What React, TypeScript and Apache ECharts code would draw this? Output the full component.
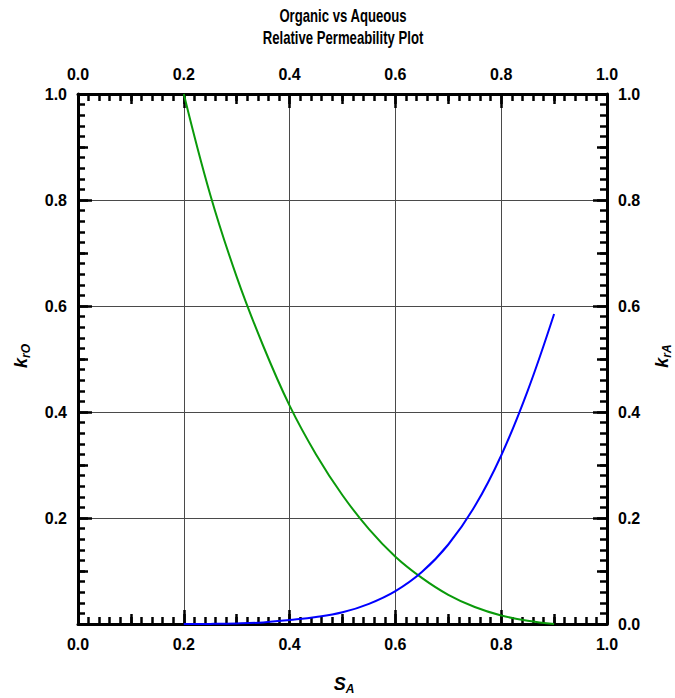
import React, { useEffect, useRef } from "react";
import * as echarts from "echarts";

const saturation = [0.2, 0.25, 0.3, 0.35, 0.4, 0.45, 0.5, 0.55, 0.6, 0.65, 0.7, 0.75, 0.8, 0.85, 0.9];
const krOrganic = [1.0, 0.81, 0.655, 0.525, 0.412, 0.32, 0.243, 0.179, 0.127, 0.087, 0.055, 0.032, 0.016, 0.006, 0.0];
const krAqueous = [0.0, 0.0002, 0.001, 0.003, 0.0075, 0.013, 0.022, 0.038, 0.062, 0.098, 0.15, 0.222, 0.318, 0.44, 0.585];
const titleLines = ["Organic vs Aqueous", "Relative Permeability Plot"];

const LFONT = "'Liberation Sans', Arial, sans-serif";

const labelStyle = { fontFamily: LFONT, fontWeight: "bold" as const, fontSize: 16, color: "#000" };

function mainAxis(position: string, isX: boolean, showSplit: boolean, formatter?: (v: number) => string) {
  return {
    type: "value",
    position,
    min: 0,
    max: 1,
    interval: 0.2,
    axisLine: { show: true, onZero: false, lineStyle: { color: "#000", width: 3 } },
    axisTick: { show: true, inside: true, length: 14, lineStyle: { color: "#000", width: 2.5 } },
    minorTick: { show: true, splitNumber: 10, length: 7, lineStyle: { color: "#000", width: 2.5 } },
    splitLine: { show: showSplit, lineStyle: { color: "#4a4a4a", width: 1 } },
    minorSplitLine: { show: false },
    axisLabel: {
      ...labelStyle,
      margin: isX ? 12 : 11,
      formatter: formatter || ((v: number) => v.toFixed(1)),
    },
  };
}

function midAxis(position: string) {
  return {
    type: "value",
    position,
    min: 0,
    max: 1,
    interval: 0.1,
    axisLine: { show: false, onZero: false },
    axisTick: { show: true, inside: true, length: 10, lineStyle: { color: "#000", width: 2.5 } },
    splitLine: { show: false },
    axisLabel: { show: false },
  };
}

export default function App() {
  const ref = useRef<HTMLDivElement>(null);
  useEffect(() => {
    if (!ref.current) return;
    const chart = echarts.init(ref.current, null, { renderer: "svg" });
    const rich = {
      k: { fontFamily: LFONT, fontWeight: "bold", fontStyle: "italic", fontSize: 18, color: "#000" },
      s: { fontFamily: LFONT, fontWeight: "bold", fontStyle: "italic", fontSize: 12, color: "#000", padding: [10, 0, 0, 0] },
    };
    const titleStyle = {
      fontFamily: LFONT,
      fontWeight: "bold",
      fontSize: 18,
      fill: "#000",
      align: "center",
      verticalAlign: "middle",
    };
    chart.setOption({
      animation: false,
      backgroundColor: "#fff",
      grid: { left: 78, right: 68, top: 94, bottom: 74, containLabel: false },
      xAxis: [
        mainAxis("bottom", true, true),
        mainAxis("top", true, false),
        midAxis("bottom"),
        midAxis("top"),
      ],
      yAxis: [
        mainAxis("left", false, true, (v: number) => (v === 0 ? "" : v.toFixed(1))),
        mainAxis("right", false, false),
        midAxis("left"),
        midAxis("right"),
      ],
      series: [
        {
          type: "line",
          name: "kro",
          xAxisIndex: 0,
          yAxisIndex: 0,
          smooth: 0.4,
          showSymbol: false,
          lineStyle: { color: "#0a9a0a", width: 2 },
          data: saturation.map((s, i) => [s, krOrganic[i]]),
          z: 5,
        },
        {
          type: "line",
          name: "kra",
          xAxisIndex: 0,
          yAxisIndex: 1,
          smooth: 0.4,
          showSymbol: false,
          lineStyle: { color: "#0000ff", width: 2 },
          data: saturation.map((s, i) => [s, krAqueous[i]]),
          z: 5,
        },
      ],
      graphic: [
        {
          type: "text",
          x: 343,
          y: 16,
          scaleX: 0.73,
          style: { ...titleStyle, text: titleLines[0] },
        },
        {
          type: "text",
          x: 343,
          y: 38,
          scaleX: 0.73,
          style: { ...titleStyle, text: titleLines[1] },
        },
        {
          type: "text",
          x: 344,
          y: 684,
          style: { text: "{k|S}{s|A}", rich, align: "center", verticalAlign: "middle" },
        },
        {
          type: "text",
          x: 21,
          y: 356,
          rotation: Math.PI / 2,
          style: { text: "{k|k}{s|rO}", rich, align: "center", verticalAlign: "middle" },
        },
        {
          type: "text",
          x: 662,
          y: 356,
          rotation: Math.PI / 2,
          style: { text: "{k|k}{s|rA}", rich, align: "center", verticalAlign: "middle" },
        },
      ],
    });
    return () => chart.dispose();
  }, []);
  return (
    <div
      ref={ref}
      style={{ position: "fixed", left: 0, top: 0, width: 675, height: 698, background: "#fff" }}
    />
  );
}
